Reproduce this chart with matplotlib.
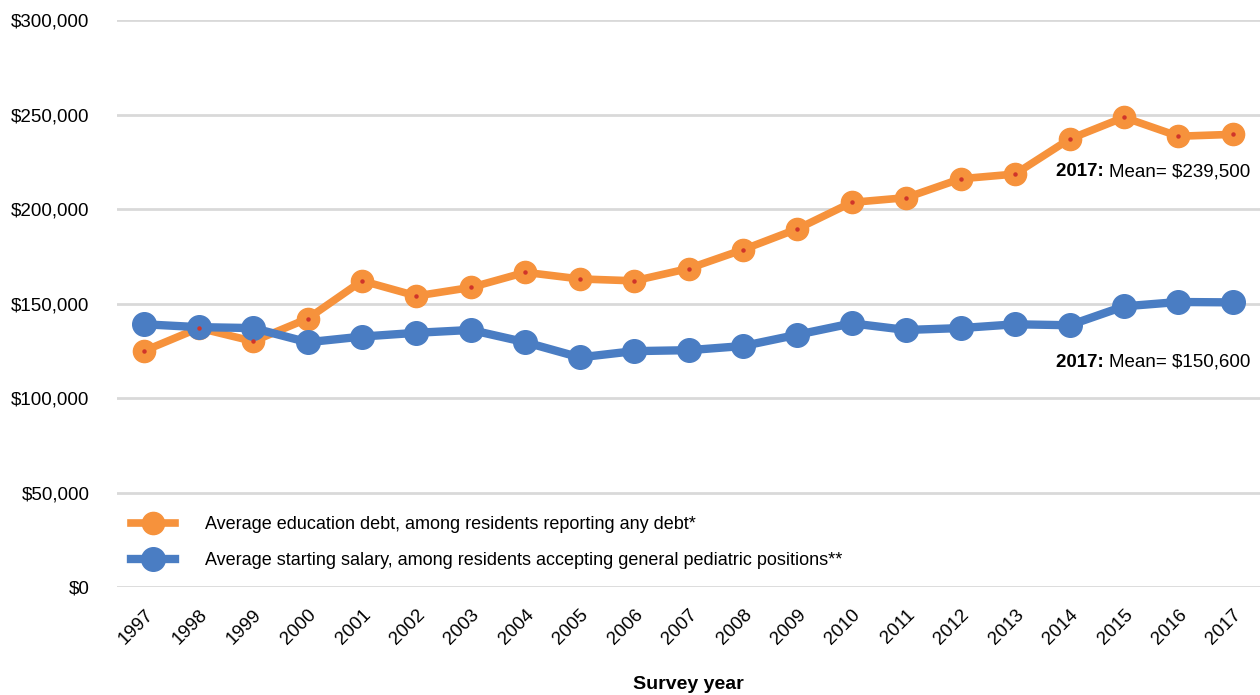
import matplotlib.pyplot as plt
from matplotlib.ticker import FuncFormatter
from matplotlib import font_manager
from matplotlib.transforms import ScaledTranslation

years = list(range(1997, 2018))
debt = [125000, 137000, 130000, 142000, 162000, 154000, 158500, 166500, 163000, 162000,
        168500, 178500, 189500, 203500, 206000, 216000, 218500, 237000, 248500, 238500, 239500]
salary = [139000, 137500, 137000, 129500, 132500, 134500, 136000, 129500, 121500, 124800,
          125300, 127500, 133500, 139500, 136000, 137000, 139000, 138500, 148500, 150800, 150600]

debt_label = "Average education debt, among residents reporting any debt*"
salary_label = "Average starting salary, among residents accepting general pediatric positions**"

orange = "#F6923C"
blue = "#4A7DC3"

names = {f.name for f in font_manager.fontManager.ttflist}
fam = "Liberation Sans Narrow" if "Liberation Sans Narrow" in names else "Liberation Sans"
plt.rcParams["font.family"] = [fam, "DejaVu Sans"]

fig = plt.figure(figsize=(12.6, 6.95), dpi=100)
ax = fig.add_axes([0.093, 0.1554, 0.907, 0.8158])

ax.plot(years, debt, color=orange, lw=5.5, marker="o", ms=16, mfc=orange, mec=orange,
        label=debt_label, zorder=3)
ax.plot(years, debt, ls="none", marker="o", ms=2.2, color="#D0352A", zorder=4)
ax.plot(years, salary, color=blue, lw=6, marker="o", ms=17, mfc=blue, mec=blue,
        label=salary_label, zorder=3)

ax.set_xlim(1996.5, 2017.5)
ax.set_ylim(0, 300000)
ax.set_yticks(range(0, 300001, 50000))
ax.yaxis.set_major_formatter(FuncFormatter(lambda v, p: "${:,.0f}".format(v)))
ax.set_xticks(years)
ax.set_xticklabels([str(y) for y in years], rotation=45, ha="right", rotation_mode="anchor")
shift = ScaledTranslation(-6 / 100, 0, fig.dpi_scale_trans)
for lbl in ax.get_xticklabels():
    lbl.set_transform(lbl.get_transform() + shift)
ax.tick_params(axis="y", length=0, labelsize=13.5, pad=20)
ax.tick_params(axis="x", length=0, labelsize=13.5, pad=14)
ax.grid(axis="y", color="#D9D9D9", lw=2)
ax.set_axisbelow(True)
for s in ax.spines.values():
    s.set_visible(False)

ax.set_xlabel("Survey year", fontsize=14, fontweight="bold", labelpad=20)

# final-year annotations: bold year followed by the mean value
fig.canvas.draw()
r = fig.canvas.get_renderer()
for val, yoff in [(debt[-1], -27), (salary[-1], -43)]:
    mean_t = ax.annotate("Mean= ${:,.0f}".format(val), xy=(2017.32, val), xytext=(0, yoff),
                         textcoords="offset points", ha="right", va="center", fontsize=13.5)
    bb = mean_t.get_window_extent(r)
    x0, y0 = ax.transData.inverted().transform((bb.x0, (bb.y0 + bb.y1) / 2))
    ax.text(x0, y0, "2017: ", ha="right", va="center", fontsize=13.5, fontweight="bold")

ax.legend(loc="lower left", bbox_to_anchor=(0.003, 0.012), frameon=False, fontsize=13,
          handlelength=2.4, handletextpad=1.7, labelspacing=1.05, borderaxespad=0.2)

fig.savefig("out.png", dpi=100)
